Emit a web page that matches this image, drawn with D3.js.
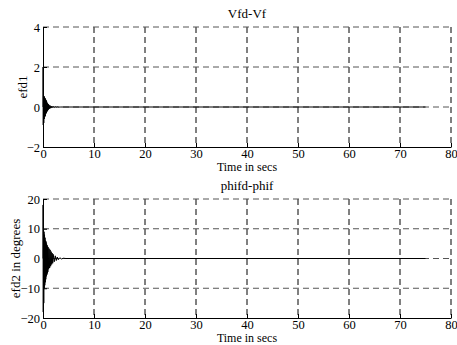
<!DOCTYPE html>
<html>
<head>
<meta charset="utf-8">
<script src="https://cdn.jsdelivr.net/npm/d3@7"></script>
<style>
  body { margin: 0; background: #fff; }
  svg text { font-family: "Liberation Serif", "Times New Roman", serif !important; fill: #000; }
</style>
</head>
<body>
<svg width="457" height="345"></svg>
<script>
const svg = d3.select('svg');

// x ticks shared by both plots
const xTicks = [0, 10, 20, 30, 40, 50, 60, 70, 80];
const yTicks1 = [-2, 0, 2, 4];
const yTicks2 = [-20, -10, 0, 10, 20];

// efd1 (Vfd-Vf)
const t1 = [0, 0.02, 0.05, 0.1, 0.15, 0.2, 0.25, 0.3, 0.35, 0.4, 0.45, 0.5, 0.55, 0.6, 0.65, 0.7, 0.75, 0.8, 0.85, 0.9, 0.95, 1.0, 1.05, 1.1, 1.15, 1.2, 1.3, 1.4, 1.5, 1.6, 1.7, 1.8, 1.9, 2.0, 2.2, 2.4, 2.6, 2.8, 3.0, 3.5, 75];
const v1 = [0, 2.0, -0.9, 0.6, -0.8, 0.55, -0.6, 0.5, -0.5, 0.45, -0.45, 0.4, -0.35, 0.35, -0.3, 0.3, -0.25, 0.22, -0.2, 0.18, -0.16, 0.15, -0.13, 0.12, -0.1, 0.09, -0.08, 0.07, -0.06, 0.05, -0.04, 0.035, -0.03, 0.025, -0.02, 0.015, -0.01, 0.008, -0.005, 0, 0];

// efd2 (phifd-phif) in degrees
const t2 = [0, 0.02, 0.05, 0.1, 0.15, 0.2, 0.25, 0.3, 0.35, 0.4, 0.45, 0.5, 0.55, 0.6, 0.65, 0.7, 0.75, 0.8, 0.85, 0.9, 0.95, 1.0, 1.1, 1.2, 1.3, 1.4, 1.5, 1.6, 1.7, 1.8, 1.9, 2.0, 2.2, 2.4, 2.6, 2.8, 3.0, 3.3, 3.6, 4.0, 4.5, 75];
const v2 = [0, 18, -18, 11, -15, 9, -10, 8, -9, 7, -8, 6, -7, 5.7, -6, 5, -5.5, 4.5, -5, 4, -4.5, 3.8, -3.6, 3.3, -3.2, 2.9, -2.6, 2.3, -2.0, 1.8, -1.6, 1.4, -1.1, 0.9, -0.7, 0.5, -0.4, 0.25, -0.15, 0.08, 0, 0];

function panel(cfg) {
  const x = d3.scaleLinear().domain([0, 80]).range([43, 451]);
  const y = d3.scaleLinear().domain(cfg.yDomain).range([cfg.bottom, cfg.top]);
  const g = svg.append('g');

  // grid
  g.selectAll('.vgrid').data(xTicks.slice(1)).enter().append('line')
    .attr('x1', d => x(d)).attr('x2', d => x(d))
    .attr('y1', cfg.top).attr('y2', cfg.bottom)
    .attr('stroke', '#000').attr('stroke-width', 1)
    .attr('stroke-dasharray', '6,4');
  g.selectAll('.hgrid').data(cfg.yTicks.slice(1)).enter().append('line')
    .attr('x1', 43).attr('x2', 451)
    .attr('y1', d => y(d)).attr('y2', d => y(d))
    .attr('stroke', '#555').attr('stroke-width', 1)
    .attr('stroke-dasharray', '6,4');

  // data
  const line = d3.line().x(d => x(d[0])).y(d => y(d[1]));
  g.append('path')
    .datum(cfg.t.map((t, i) => [t, cfg.v[i]]))
    .attr('d', line)
    .attr('fill', 'none').attr('stroke', '#000').attr('stroke-width', 1);

  // axes
  const xAxis = d3.axisBottom(x).tickValues(xTicks).tickFormat(d3.format('d'))
    .tickSizeInner(-4).tickSizeOuter(0).tickPadding(2);
  const gx = g.append('g').attr('transform', `translate(0,${cfg.bottom})`).call(xAxis);
  const yAxis = d3.axisLeft(y).tickValues(cfg.yTicks).tickFormat(d3.format('d'))
    .tickSizeInner(-4).tickSizeOuter(0).tickPadding(3);
  const gy = g.append('g').attr('transform', 'translate(43,0)').call(yAxis);
  [gx, gy].forEach(a => {
    a.attr('font-size', 12.5).attr('font-family', null);
    a.select('.domain').attr('stroke', '#000');
    a.selectAll('.tick line').attr('stroke', '#000');
  });

  // labels
  g.append('text').attr('x', 247).attr('y', cfg.top - 9)
    .attr('text-anchor', 'middle').attr('font-size', 13).text(cfg.title);
  g.append('text').attr('x', 247).attr('y', cfg.bottom + 24)
    .attr('text-anchor', 'middle').attr('font-size', 12).text('Time in secs');
  g.append('text')
    .attr('transform', `translate(${cfg.labelX},${(cfg.top + cfg.bottom) / 2}) rotate(-90)`)
    .attr('text-anchor', 'middle').attr('font-size', 13).text(cfg.ylabel);
}

panel({ top: 27, bottom: 147, yDomain: [-2, 4], yTicks: yTicks1, t: t1, v: v1, title: 'Vfd-Vf', ylabel: 'efd1', labelX: 27 });
panel({ top: 199, bottom: 318, yDomain: [-20, 20], yTicks: yTicks2, t: t2, v: v2, title: 'phifd-phif', ylabel: 'efd2 in degrees', labelX: 20 });
</script>
</body>
</html>
